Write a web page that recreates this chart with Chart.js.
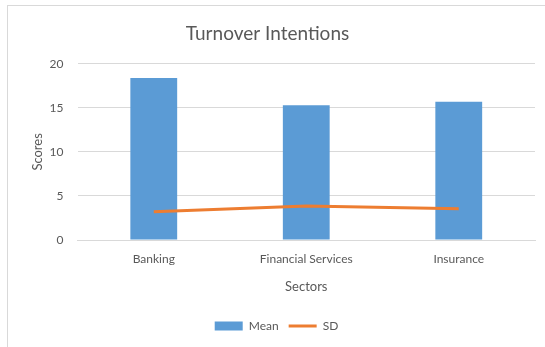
<!DOCTYPE html>
<html>
<head>
<meta charset="utf-8">
<script src="https://cdn.jsdelivr.net/npm/chart.js@4"></script>
<style>
    html, body { margin: 0; padding: 0; background: #fff; }
    #frame {
        position: absolute; left: 7px; top: 5px; width: 545px; height: 345px;
        border: 1px solid #d9d9d9; box-sizing: border-box;
    }
    #wrap { position: absolute; left: 0; top: 0; width: 545px; height: 347px; }
</style>
</head>
<body>
<div id="frame"></div>
<div id="wrap"><canvas id="chart"></canvas></div>
<script>
// values
const sectors = ['Banking', 'Financial Services', 'Insurance'];
const meanScores = [18.4, 15.3, 15.7];
const sdScores = [3.2, 3.85, 3.55];
const yTicks = [0, 5, 10, 15, 20];

const textColor = '#595959';
const gridColor = '#d9d9d9';

// nudge the legend a little to the right, like the original
const legendShift = {
    id: 'legendShift',
    afterLayout(chart) {
        chart.legend.left += 9;
        chart.legend.right += 9;
    }
};

const ctx = document.getElementById('chart').getContext('2d');
new Chart(ctx, {
    type: 'bar',
    data: {
        labels: sectors,
        datasets: [
            {
                type: 'line',
                label: 'SD',
                data: sdScores,
                borderColor: '#ED7D31',
                backgroundColor: '#ED7D31',
                borderWidth: 3,
                pointRadius: 0,
                tension: 0,
                order: 0,
                pointStyle: 'line'
            },
            {
                label: 'Mean',
                data: meanScores,
                backgroundColor: '#5B9BD5',
                borderWidth: 0,
                barPercentage: 0.307,
                categoryPercentage: 1,
                order: 1,
                pointStyle: 'rect'
            }
        ]
    },
    plugins: [legendShift],
    options: {
        responsive: true,
        maintainAspectRatio: false,
        animation: false,
        layout: { padding: { left: 0, right: 10, top: 14, bottom: 5 } },
        plugins: {
            title: {
                display: true,
                text: 'Turnover Intentions',
                color: textColor,
                font: { family: 'Lato', size: 19, weight: 'normal' },
                padding: { top: 8, bottom: 19 }
            },
            legend: {
                position: 'bottom',
                reverse: true,
                labels: {
                    color: textColor,
                    font: { family: 'Lato', size: 12 },
                    usePointStyle: true,
                    boxHeight: 9,
                    pointStyleWidth: 28,
                    padding: 10
                }
            },
            tooltip: { enabled: false }
        },
        scales: {
            x: {
                grid: { display: false },
                border: { color: gridColor },
                ticks: { color: textColor, font: { family: 'Lato', size: 12 }, padding: 4 },
                title: {
                    display: true,
                    text: 'Sectors',
                    color: textColor,
                    font: { family: 'Lato', size: 13 },
                    padding: { top: 9, bottom: 15 }
                }
            },
            y: {
                min: 0,
                max: 20,
                afterBuildTicks: axis => { axis.ticks = yTicks.map(v => ({ value: v })); },
                grid: { color: gridColor, drawTicks: false },
                border: { display: false },
                ticks: { color: textColor, font: { family: 'Lato', size: 12 }, padding: 14 },
                title: {
                    display: true,
                    text: 'Scores',
                    color: textColor,
                    font: { family: 'Lato', size: 13 },
                    padding: { top: 30, bottom: -10 }
                }
            }
        }
    }
});
</script>
</body>
</html>
